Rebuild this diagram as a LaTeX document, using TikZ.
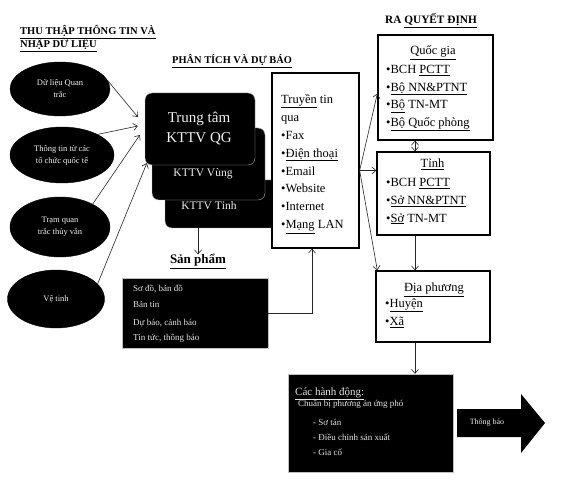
\documentclass[tikz,border=0pt]{standalone}
\usepackage{fontspec}
\setmainfont{Liberation Serif}
\usetikzlibrary{shapes.geometric,arrows.meta,calc}
\begin{document}
\begin{tikzpicture}[x=1pt,y=-1pt,
  ell/.style={ellipse, fill=black, draw=black, inner sep=0, text=white!88!gray, align=center, font=\fontsize{8.5}{12}\selectfont},
  kbox/.style={rectangle, rounded corners=7pt, fill=black, draw=gray!60, line width=0.4pt, inner sep=0},
  ktext/.style={text=white!88!gray, align=center, inner sep=0},
  wbox/.style={rectangle, draw=black, line width=1.3pt, fill=white, inner sep=0},
  dbox/.style={rectangle, fill=black, draw=gray!50, line width=0.4pt, inner sep=0},
  item/.style={anchor=base west, inner sep=0, font=\fontsize{12.5}{15}\selectfont},
  ttl/.style={anchor=base, inner sep=0, font=\fontsize{12.5}{15}\selectfont},
  head/.style={anchor=base west, inner sep=0, font=\bfseries\fontsize{10.5}{12}\selectfont},
  dtext/.style={anchor=base west, inner sep=0, text=white!80!gray, font=\fontsize{9}{11}\selectfont},
  arr/.style={-{Straight Barb[length=4pt,width=7pt]}, line width=0.6pt, draw=black!85},
  darr/.style={{Straight Barb[length=4pt,width=7pt]}-{Straight Barb[length=4pt,width=7pt]}, line width=0.6pt, draw=black!85},
]
\useasboundingbox[fill=white] (0,0) rectangle (576,489);

% headings
\node[head] (h1a) at (20,35) {\underline{THU THẬP THÔNG TIN VÀ}};
\node[head] (h1b) at (20,48) {\underline{NHẬP DỮ LIỆU}};
\node[head, font=\bfseries\fontsize{10.4}{12}\selectfont] (h2) at (172,64) {\underline{PHÂN TÍCH VÀ DỰ BÁO}};
\node[head, font=\bfseries\fontsize{11.3}{12}\selectfont] (h3) at (385,24) {RA \underline{QUYẾT ĐỊNH}};

% ellipses
\node[ell, minimum width=100pt, minimum height=54pt] (e1) at (60,89) {Dữ liệu Quan\\trắc};
\node[ell, minimum width=104pt, minimum height=56pt] (e2) at (62,155) {Thông tin từ các\\tổ chức quốc tế};
\node[ell, minimum width=100pt, minimum height=60pt] (e3) at (60,227) {Trạm quan\\trắc thủy văn};
\node[ell, minimum width=97pt, minimum height=58pt] (e4) at (56,299) {Vệ tinh};

% KTTV boxes
\node[kbox, minimum width=113pt, minimum height=48pt] (k3) at (221.5,204) {};
\node[kbox, minimum width=113pt, minimum height=72pt] (k2) at (208.5,164) {};
\node[kbox, minimum width=110pt, minimum height=72pt] (k1) at (200,129) {};
\node[ktext, font=\fontsize{15}{20}\selectfont] (k1t) at (199,128) {Trung tâm\\KTTV QG};
\node[ktext, font=\fontsize{11.5}{14}\selectfont] (k2t) at (203,174) {KTTV Vùng};
\node[ktext, font=\fontsize{11.5}{14}\selectfont] (k3t) at (209,206) {KTTV Tỉnh};

\draw[arr] (e1.10) -- ($(k1.west)+(-7,-12)$);
\draw[arr] (e2.30) -- ($(k1.west)+(-7,-3)$);
\draw[arr] (e3.35) -- ($(k1.west)+(-5,6)$);
\draw[arr] (e4.20) -- ($(k1.south west)+(2,-2)$);

% products
\node[font=\bfseries\fontsize{13}{15}\selectfont, anchor=base, inner sep=0] (sp) at (198,264) {\underline{Sản phẩm}};
\draw[arr] (sp.north |- k3.south) -- (sp.north);
\node[dbox, minimum width=146pt, minimum height=70pt] (prod) at (195,313) {};
\node[dtext] (p1) at (133,292) {Sơ đồ, bản đồ};
\node[dtext] (p2) at (133,308) {Bản tin};
\node[dtext] (p3) at (133,325) {Dự báo, cảnh báo};
\node[dtext] (p4) at (133,341) {Tin tức, thông báo};

% Truyen tin box
\node[wbox, minimum width=87pt, minimum height=175pt] (tt) at (315.5,160.5) {};
\foreach \t [count=\i] in {{\underline{Truyền} tin}, qua, •Fax, •\underline{Điện thoại}, •Email, •Website, •Internet, •\underline{Mạng} LAN}
  \node[item] (ttl\i) at (281, 103.5+17.9*\i-17.9) {\t};
\draw[arr] (prod.east) -| ([xshift=-3.5pt]tt.south);

% Quoc gia
\node[wbox, minimum width=115pt, minimum height=105pt] (qg) at (435.5,87.5) {};
\node[ttl] (qgt) at (433,55) {\underline{Quốc gia}};
\foreach \t [count=\i] in {•BCH \underline{PCTT}, •\underline{Bộ NN\&PTNT}, •\underline{Bộ} TN-MT, •\underline{Bộ Quốc phòng}}
  \node[item] (qgl\i) at (386, 73.5+17.6*\i-17.6) {\t};

% Tinh
\node[wbox, minimum width=113pt, minimum height=83pt] (tinh) at (433.5,193.5) {};
\node[ttl] (tinht) at (432.5,168) {\underline{Tỉnh}};
\foreach \t [count=\i] in {•BCH \underline{PCTT}, •\underline{Sở NN\&PTNT}, •\underline{Sở} TN-MT}
  \node[item] (tinhl\i) at (386, 186.5+17.8*\i-17.8) {\t};

% Dia phuong
\node[wbox, minimum width=114pt, minimum height=71pt] (dp) at (433,306.5) {};
\node[ttl] (dpt) at (434,292) {\underline{Địa phương}};
\node[item] (dpl1) at (385,307.5) {•\underline{Huyện}};
\node[item] (dpl2) at (385,326) {•\underline{Xã}};

% actions box
\node[dbox, minimum width=165pt, minimum height=98pt] (act) at (370.5,423) {};
\node[dtext, font=\fontsize{11}{12}\selectfont] (a1) at (295,395) {\underline{Các hành động:}};
\node[dtext] (a2) at (298,406) {Chuẩn bị phương án ứng phó};
\node[dtext] (a3) at (313,425) {- Sơ tán};
\node[dtext] (a4) at (313,440) {- Điều chỉnh sản xuất};
\node[dtext] (a5) at (313,455) {- Gia cố};

% Thong bao arrow
\fill[black] (457,409) -- (521,409) -- (521,394) -- (545,423) -- (521,453) -- (521,437) -- (457,437) -- cycle;
\node[text=white!85!gray, font=\fontsize{8}{10}\selectfont, inner sep=0] (tb) at (487,423) {Thông báo};

% connectors right side
\coordinate (ttout) at ($(tt.east)+(0,10)$);
\coordinate (vx) at (415,0);
\draw[arr] (ttout) -- ([yshift=-6pt]qg.west);
\draw[arr] (ttout) -- (tinh.west |- ttout);
\draw[arr] (ttout) -- ([xshift=2pt]dp.north west);
\draw[darr] (qg.south -| vx) -- (tinh.north -| vx);
\draw[arr] (tinh.south -| vx) -- (dp.north -| vx);
\draw[arr] (dp.south -| vx) -- (act.north -| vx);
\end{tikzpicture}
\end{document}
